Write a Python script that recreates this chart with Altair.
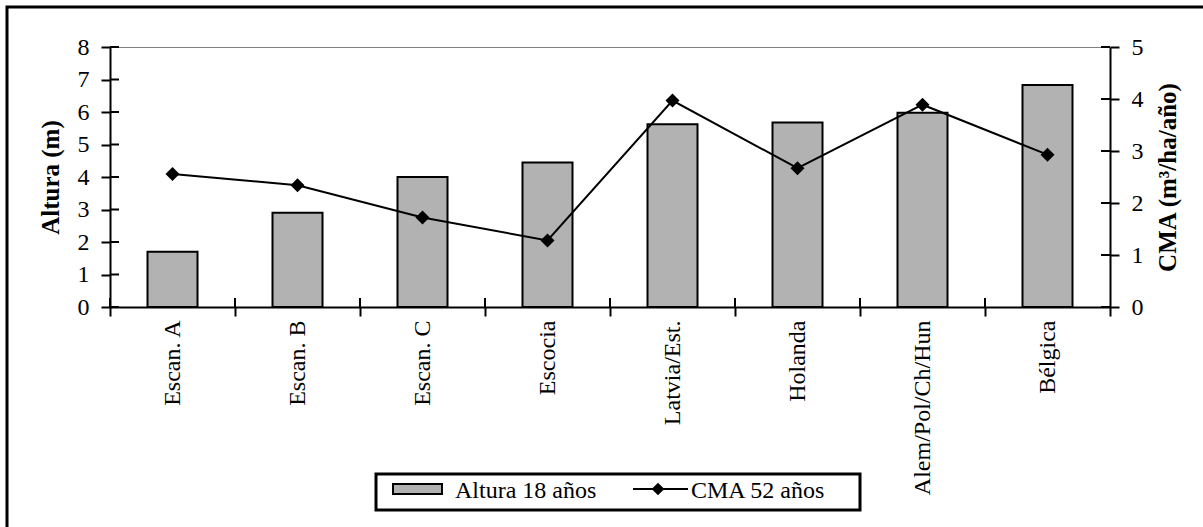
import altair as alt
import pandas as pd

# Regions and the two series
regiones = ["Escan. A", "Escan. B", "Escan. C", "Escocia", "Latvia/Est.",
            "Holanda", "Alem/Pol/Ch/Hun", "Bélgica"]
altura_18 = [1.7, 2.9, 4.0, 4.45, 5.62, 5.68, 5.98, 6.83]
cma_52 = [2.56, 2.34, 1.72, 1.28, 3.97, 2.67, 3.89, 2.93]
ticks_altura = [0, 1, 2, 3, 4, 5, 6, 7, 8]
ticks_cma = [0, 1, 2, 3, 4, 5]

W, H = 1000, 260
FONT = "Liberation Serif"
GRIS = "#b2b2b2"

df = pd.DataFrame({"region": regiones, "altura": altura_18, "cma": cma_52})

axis_common = dict(
    domainColor="black", domainWidth=2, tickColor="black", tickWidth=2,
    labelFont=FONT, labelColor="black", grid=False,
)

x_axis = alt.Axis(title=None, labelAngle=270, tickBand="extent", tickSize=9,
                  labelPadding=4, labelFontSize=24, labelLimit=400, **axis_common)
x_scale = alt.Scale(paddingInner=0, paddingOuter=0)


def x_enc(**kw):
    return alt.X("region:N", sort=regiones, scale=x_scale, axis=x_axis, **kw)


y_left = alt.Y(
    "altura:Q",
    scale=alt.Scale(domain=[0, 8], nice=False, zero=True),
    axis=alt.Axis(values=ticks_altura, title="Altura (m)", titleFont=FONT,
                  titleFontSize=25, titleFontWeight="bold", titleColor="black",
                  titlePadding=14, tickSize=9, labelPadding=12, labelFontSize=24,
                  **axis_common),
)

y_right = alt.Y(
    "cma:Q",
    scale=alt.Scale(domain=[0, 5], nice=False, zero=True),
    axis=alt.Axis(values=ticks_cma, orient="right", title="CMA (m³/ha/año)",
                  titleFont=FONT, titleFontSize=25, titleFontWeight="bold",
                  titleColor="black", titleAngle=270, titleBaseline="top",
                  titlePadding=12, tickSize=9, labelPadding=12, labelFontSize=24,
                  **axis_common),
)

# Bars on the left scale, with tick stubs crossing into the plot
bars = alt.Chart(df).mark_bar(
    width=alt.RelativeBandSize(0.4), color=GRIS, stroke="black", strokeWidth=2
).encode(x=x_enc(), y=y_left)

left_stubs = alt.Chart(pd.DataFrame({"altura": ticks_altura})).mark_rule(
    color="black", strokeWidth=2
).encode(y=y_left, x=alt.value(0), x2=alt.value(9))

x_stubs = alt.Chart(df).mark_rule(color="black", strokeWidth=2).encode(
    x=x_enc(bandPosition=0), y=alt.value(H - 9), y2=alt.value(H)
)

capa_altura = alt.layer(bars, left_stubs, x_stubs)

# Line with diamonds on the right scale
linea = alt.Chart(df).mark_line(color="black", strokeWidth=2).encode(
    x=x_enc(), y=y_right
)
puntos = alt.Chart(df).mark_point(
    shape="diamond", filled=True, size=196, color="black", opacity=1
).encode(x=x_enc(), y=y_right)

right_stubs = alt.Chart(pd.DataFrame({"cma": ticks_cma})).mark_rule(
    color="black", strokeWidth=2
).encode(y=y_right, x=alt.value(W - 9), x2=alt.value(W))

capa_cma = alt.layer(linea, puntos, right_stubs)

# Legend drawn below the plot
one = pd.DataFrame({"k": [0]})
ley_caja = alt.Chart(one).mark_rect(
    fill="white", stroke="black", strokeWidth=3
).encode(x=alt.value(266), x2=alt.value(750), y=alt.value(427), y2=alt.value(463))
ley_barra = alt.Chart(one).mark_rect(
    fill=GRIS, stroke="black", strokeWidth=2
).encode(x=alt.value(283), x2=alt.value(332), y=alt.value(437), y2=alt.value(447))
ley_linea = alt.Chart(one).mark_rule(color="black", strokeWidth=2).encode(
    x=alt.value(523), x2=alt.value(578), y=alt.value(442)
)
ley_rombo = alt.Chart(one).mark_point(
    shape="diamond", filled=True, size=160, color="black", opacity=1
).encode(x=alt.value(548), y=alt.value(442))


def ley_texto(texto, x):
    return alt.Chart(pd.DataFrame({"t": [texto]})).mark_text(
        font=FONT, fontSize=24, align="left", baseline="alphabetic", color="black"
    ).encode(text="t:N", x=alt.value(x), y=alt.value(451))


# Outer frame around the whole figure
marco = alt.Chart(one).mark_rect(
    filled=False, stroke="black", strokeWidth=3
).encode(x=alt.value(-103), x2=alt.value(1130), y=alt.value(-40), y2=alt.value(510))

chart = alt.layer(
    capa_altura, capa_cma,
    ley_caja, ley_barra, ley_linea, ley_rombo,
    ley_texto("Altura 18 años", 345), ley_texto("CMA 52 años", 581),
    marco,
).resolve_scale(y="independent").properties(
    width=W, height=H,
    autosize=alt.AutoSizeParams(type="none"),
    padding={"left": 110, "top": 47, "right": 93, "bottom": 220},
    background="white",
).configure_view(stroke="#808080", strokeWidth=1)

chart.save("out.html", embed_options={"renderer": "svg", "actions": False})
